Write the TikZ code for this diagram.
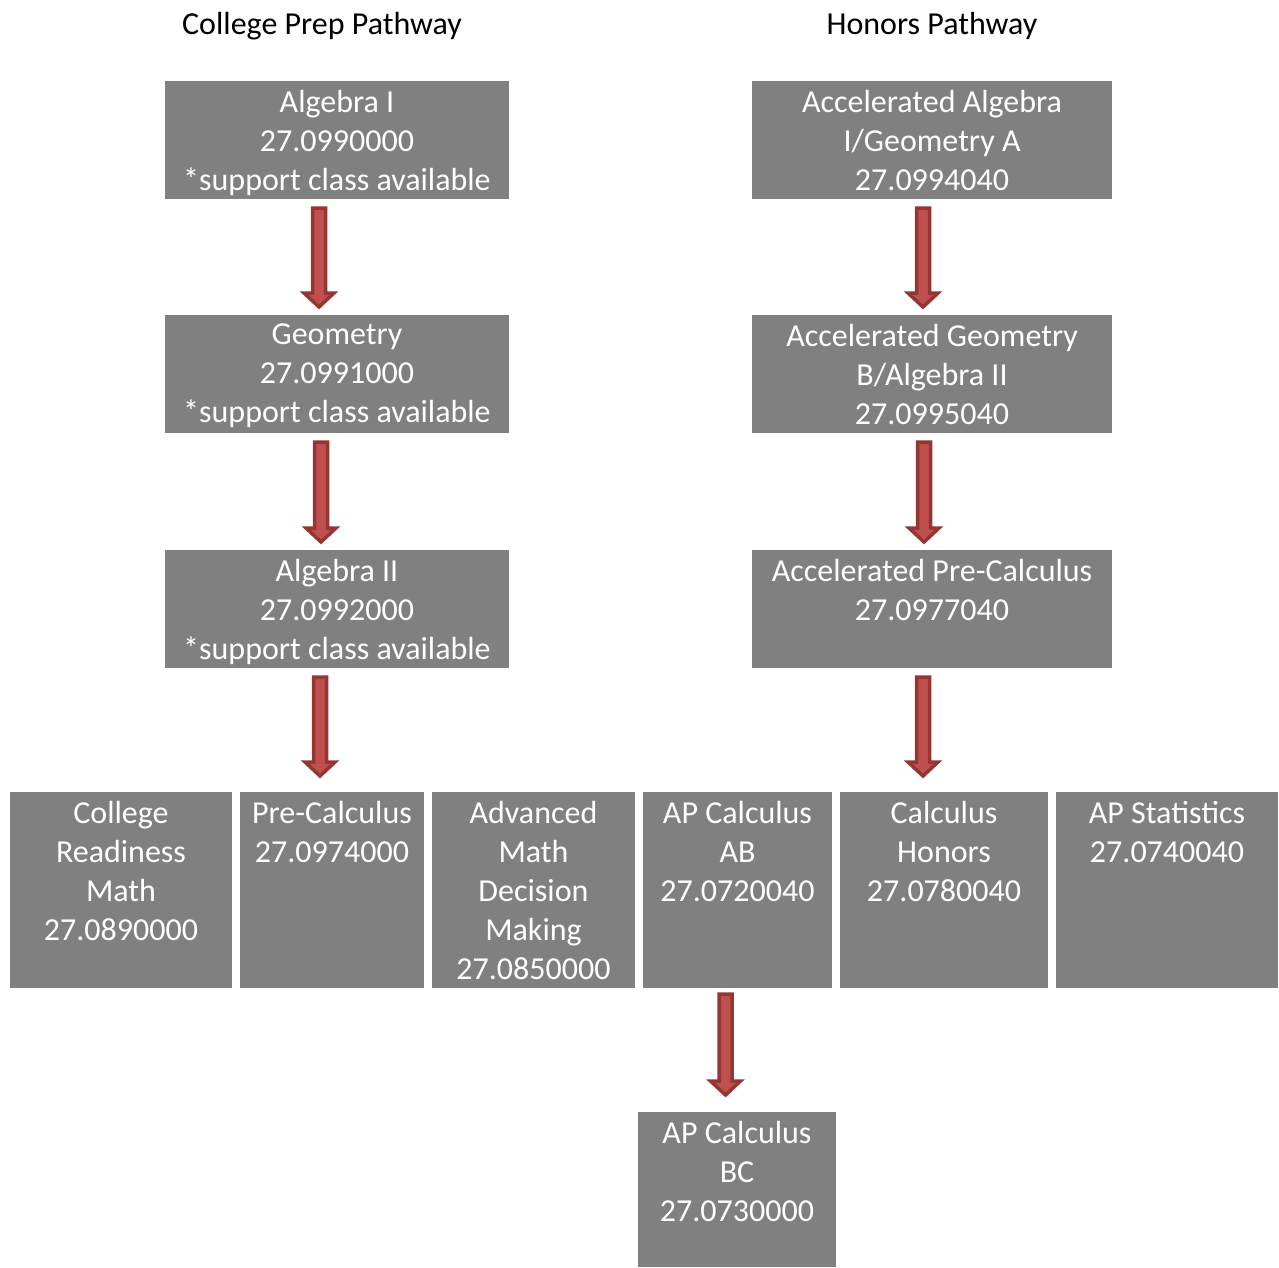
\documentclass[tikz,border=0pt]{standalone}
\usepackage{fontspec}
\setmainfont{Carlito}
\usetikzlibrary{calc}
\definecolor{boxgray}{HTML}{808080}
\definecolor{arrowfill}{HTML}{C0504D}
\definecolor{arrowedge}{HTML}{943634}
\tikzset{
  course/.style={fill=boxgray, draw=none, inner sep=0pt, outer sep=0pt},
  coursetext/.style={text=white, anchor=north, inner sep=0pt, align=center,
    font=\fontsize{32pt}{39pt}\selectfont,
    execute at begin node={\rule{0pt}{26pt}}},
  heading/.style={text=black, anchor=base, inner sep=0pt,
    font=\fontsize{32pt}{39pt}\selectfont},
  blockarrow/.style={fill=arrowfill, draw=arrowedge, line width=3.5pt, line join=miter,
    to path={let \p1=(\tikztostart), \p2=(\tikztotarget) in
      (\x1-6.5pt,\y1) -- (\x1+6.5pt,\y1) -- (\x1+6.5pt,\y2+16pt) -- (\x1+15pt,\y2+16pt)
      -- (\x1,\y2+2pt) -- (\x1-15pt,\y2+16pt) -- (\x1-6.5pt,\y2+16pt) -- cycle}}
}
\begin{document}
\begin{tikzpicture}[x=1pt,y=-1pt]
\fill[white] (0,0) rectangle (1279,1267);
\useasboundingbox (0,0) rectangle (1279,1267);

% headings
\node[heading] (hcp) at (322,34) {College Prep Pathway};
\node[heading] (hhn) at (932,34) {Honors Pathway};

% college prep column
\node[course, minimum width=344pt, minimum height=118pt] (alg1) at (337,140) {};
\node[coursetext] (alg1t) at ([yshift=-9pt]alg1.north) {Algebra I\\27.0990000\\*support class available};
\node[course, minimum width=344pt, minimum height=118pt] (geo) at (337,374) {};
\node[coursetext] (geot) at ([yshift=-9pt]geo.north) {Geometry\\27.0991000\\*support class available};
\node[course, minimum width=344pt, minimum height=118pt] (alg2) at (337,609) {};
\node[coursetext] (alg2t) at ([yshift=-9pt]alg2.north) {Algebra II\\27.0992000\\*support class available};

% honors column
\node[course, minimum width=360pt, minimum height=118pt] (aag) at (932,140) {};
\node[coursetext] (aagt) at ([yshift=-9pt]aag.north) {Accelerated Algebra\\I/Geometry A\\27.0994040};
\node[course, minimum width=360pt, minimum height=118pt] (aga) at (932,374) {};
\node[coursetext] (agat) at ([yshift=-9pt]aga.north) {Accelerated Geometry\\B/Algebra II\\27.0995040};
\node[course, minimum width=360pt, minimum height=118pt] (apc) at (932,609) {};
\node[coursetext] (apct) at ([yshift=-9pt]apc.north) {Accelerated Pre-Calculus\\27.0977040};

% senior-year options
\node[course, minimum width=222pt, minimum height=196pt] (crm) at (121,890) {};
\node[coursetext] (crmt) at ([yshift=-9pt]crm.north) {College\\Readiness\\Math\\27.0890000};
\node[course, minimum width=184pt, minimum height=196pt] (pre) at (332,890) {};
\node[coursetext] (pret) at ([yshift=-9pt]pre.north) {Pre-Calculus\\27.0974000};
\node[course, minimum width=203pt, minimum height=196pt] (amd) at (533.5,890) {};
\node[coursetext] (amdt) at ([yshift=-9pt]amd.north) {Advanced\\Math\\Decision\\Making\\27.0850000};
\node[course, minimum width=189pt, minimum height=196pt] (cab) at (737.5,890) {};
\node[coursetext] (cabt) at ([yshift=-9pt]cab.north) {AP Calculus\\AB\\27.0720040};
\node[course, minimum width=208pt, minimum height=196pt] (chn) at (944,890) {};
\node[coursetext] (chnt) at ([yshift=-9pt]chn.north) {Calculus\\Honors\\27.0780040};
\node[course, minimum width=222pt, minimum height=196pt] (aps) at (1167,890) {};
\node[coursetext] (apst) at ([yshift=-9pt]aps.north) {AP Statistics\\27.0740040};

\node[course, minimum width=198pt, minimum height=155pt] (cbc) at (737,1189.5) {};
\node[coursetext] (cbct) at ([yshift=-9pt]cbc.north) {AP Calculus\\BC\\27.0730000};

% progression arrows
\draw[blockarrow] ([xshift=-18pt,yshift=-9pt]alg1.south) to ([xshift=-18pt,yshift=6pt]geo.north);
\draw[blockarrow] ([xshift=-16pt,yshift=-9pt]geo.south) to ([xshift=-16pt,yshift=6pt]alg2.north);
\draw[blockarrow] ([xshift=-17pt,yshift=-9pt]alg2.south) to ([xshift=-5pt,yshift=14pt]pre.north);
\draw[blockarrow] ([xshift=-9pt,yshift=-9pt]aag.south) to ([xshift=-9pt,yshift=6pt]aga.north);
\draw[blockarrow] ([xshift=-8pt,yshift=-9pt]aga.south) to ([xshift=-8pt,yshift=6pt]apc.north);
\draw[blockarrow] ([xshift=-9pt,yshift=-9pt]apc.south) to ([xshift=-21pt,yshift=14pt]chn.north);
\draw[blockarrow] ([xshift=-12pt,yshift=-6pt]cab.south) to ([xshift=-12pt,yshift=15pt]cbc.north);
\end{tikzpicture}
\end{document}
